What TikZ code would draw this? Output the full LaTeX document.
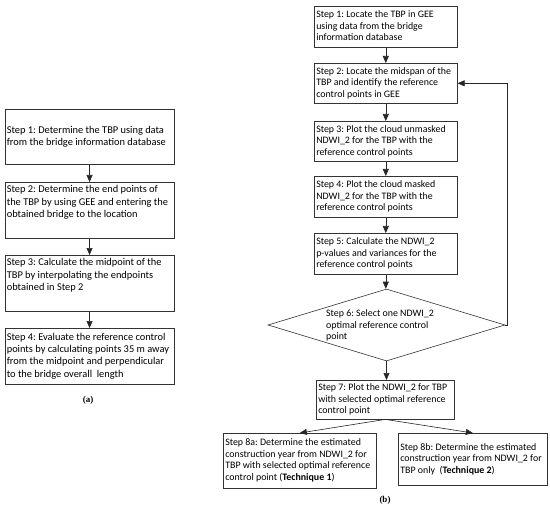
\documentclass[tikz,border=0pt]{standalone}
\usepackage{fontspec}
\setmainfont{Carlito}
\newfontfamily\capfont{Liberation Serif}
\usetikzlibrary{arrows.meta,shapes.geometric}
\frenchspacing
\newcommand{\steplines}[2]{\makebox[#1][l]{\begin{tabular}{@{}l@{}}#2\end{tabular}}}
\newcommand{\steptop}[3]{\parbox[c][#2][t]{#1}{\begin{tabular}[t]{@{}l@{}}#3\end{tabular}}}
\begin{document}
\begin{tikzpicture}[x=1pt,y=-1pt,
  box/.style={draw=black!80, line width=0.6pt, inner xsep=2pt, inner ysep=2pt, anchor=north west},
  lfont/.style={font=\fontsize{10.4}{12.3}\selectfont\frenchspacing},
  rfont/.style={font=\fontsize{9.9}{11.6}\selectfont\frenchspacing},
  arr/.style={-{Triangle[length=7pt,width=6pt]}, line width=0.6pt, draw=black!85},
  captext/.style={font=\capfont\bfseries\fontsize{9}{10}\selectfont}]
\useasboundingbox (0,0) rectangle (550,511);
% ---------- (a) ----------
\node[box, lfont, minimum width=169.5pt, minimum height=55pt] (L1) at (4.5,109)
  {\steplines{165.5pt}{Step 1: Determine the TBP using data\\from the bridge information database}};
\node[box, lfont, minimum width=169.5pt, minimum height=56pt] (L2) at (4.5,182)
  {\steptop{165.5pt}{52pt}{Step 2: Determine the end points of\\the TBP by using GEE and entering the\\obtained bridge to the location}};
\node[box, lfont, minimum width=169.5pt, minimum height=56pt] (L3) at (4.5,255)
  {\steptop{165.5pt}{52pt}{Step 3: Calculate the midpoint of the\\TBP by interpolating the endpoints\\obtained in Step 2}};
\node[box, lfont, minimum width=169.5pt, minimum height=56pt] (L4) at (4.5,328)
  {\steplines{165.5pt}{Step 4: Evaluate the reference control\\points by calculating points 35 m away\\from the midpoint and perpendicular\\to the bridge overall\ \ length}};
\draw[arr] (L1.south) -- (L2.north);
\draw[arr] (L2.south) -- (L3.north);
\draw[arr] (L3.south) -- (L4.north);
\node[captext] (capa) at (88,400) {(a)};
% ---------- (b) ----------
\node[box, rfont, minimum width=143pt, minimum height=41pt] (R1) at (314,6)
  {\steplines{139pt}{Step 1: Locate the TBP in GEE\\using data from the bridge\\information database}};
\node[box, rfont, minimum width=143pt, minimum height=40pt] (R2) at (314,63)
  {\steplines{139pt}{Step 2: Locate the midspan of the\\TBP and identify the reference\\control points in GEE}};
\node[box, rfont, minimum width=143pt, minimum height=40pt] (R3) at (314,121)
  {\steplines{139pt}{Step 3: Plot the cloud unmasked\\NDWI\_2 for the TBP with the\\reference control points}};
\node[box, rfont, minimum width=143pt, minimum height=41pt] (R4) at (314,176)
  {\steplines{139pt}{Step 4: Plot the cloud masked\\NDWI\_2 for the TBP with the\\reference control points}};
\node[box, rfont, minimum width=143pt, minimum height=41pt] (R5) at (314,233)
  {\steplines{139pt}{Step 5: Calculate the NDWI\_2\\p-values and variances for the\\reference control points}};
\node[draw=black!80, line width=0.6pt, diamond, aspect=3.3, minimum width=237pt, minimum height=72pt, inner sep=0pt] (D6) at (386.5,325) {};
\node[rfont, anchor=west, inner sep=0pt] (D6t) at (326,326)
  {\begin{tabular}{@{}l@{}}Step 6: Select one NDWI\_2\\optimal reference control\\point\end{tabular}};
\node[box, rfont, minimum width=138pt, minimum height=38pt] (R7) at (316,380)
  {\steplines{134pt}{Step 7: Plot the NDWI\_2 for TBP\\with selected optimal reference\\control point}};
\node[box, rfont, minimum width=153pt, minimum height=55pt] (R8a) at (223,433)
  {\steplines{149pt}{Step 8a: Determine the estimated\\construction year from NDWI\_2 for\\TBP with selected optimal reference\\control point (\textbf{Technique 1})}};
\node[box, rfont, minimum width=149pt, minimum height=52pt] (R8b) at (398,433)
  {\steplines{145pt}{Step 8b: Determine the estimated\\construction year from NDWI\_2 for\\TBP only\ \ (\textbf{Technique 2})}};
\draw[arr] (R1.south) -- (R2.north);
\draw[arr] (R2.south) -- (R3.north);
\draw[arr] (R3.south) -- (R4.north);
\draw[arr] (R4.south) -- (R5.north);
\draw[arr] (R5.south) -- (R5.south |- D6.north);
\draw[arr] (D6.south) -- (D6.south |- R7.north);
\draw[arr] (D6.east) -- ++(2,0) |- (R2.east);
\draw[arr] (R7.south) -- (R8a.north);
\draw[arr] (R7.south) -- (R8b.north);
\node[captext] (capb) at (385,500) {(b)};
\end{tikzpicture}
\end{document}
